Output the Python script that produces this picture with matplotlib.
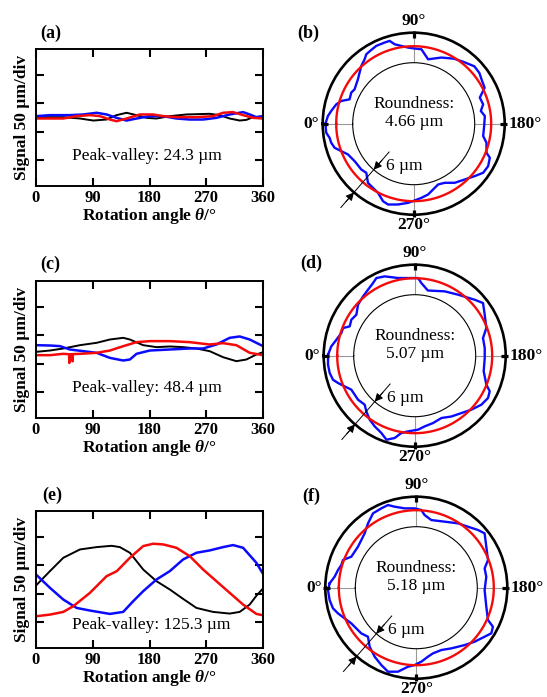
import matplotlib
matplotlib.use("Agg")
import matplotlib.pyplot as plt
import numpy as np

plt.rcParams['font.family'] = ['Liberation Serif', 'DejaVu Serif']
plt.rcParams['mathtext.fontset'] = 'custom'
plt.rcParams['mathtext.rm'] = 'Liberation Serif:bold'
plt.rcParams['mathtext.it'] = 'Liberation Serif:italic:bold'
plt.rcParams['mathtext.bf'] = 'Liberation Serif:bold'

BLUE = '#0a0aff'
RED = '#f50a0a'

# signal traces: rotation angle (deg) and signal (um)
a_black_ang = [0, 43.3, 69.7, 90.8, 111.9, 127.7, 143.6, 159.4, 175.3, 191.1, 212.2, 238.6, 275.5, 291.4, 307.2, 323.1, 333.7, 344.2, 360]
a_black_val = [0.6, 0.6, -1.8, -5.4, -3.6, 4.2, 8.4, 4.2, -0.6, -1.8, 2.4, 5.4, 6.6, 4.2, -1.8, -5.4, -4.2, 0.6, 1.8]
a_red_ang = [0, 22.2, 43.3, 64.4, 85.5, 101.3, 117.2, 127.7, 143.6, 164.7, 185.8, 201.6, 222.7, 254.4, 280.8, 296.7, 312.5, 328.4, 344.2, 360]
a_red_val = [-1.8, -1.8, -1.8, 2.4, 4.2, 2.4, -3.6, -6.6, -1.8, 5.4, 5.4, 2.4, 0.6, 0.6, 2.4, 8.4, 9.6, 4.2, -0.6, -1.8]
a_blue_ang = [0, 22.2, 53.8, 75.0, 96.1, 111.9, 127.7, 143.6, 159.4, 180.5, 201.6, 222.7, 243.8, 265.0, 286.1, 307.2, 328.4, 338.9, 349.5, 360]
a_blue_val = [2.4, 4.2, 4.2, 5.4, 8.4, 5.4, -0.6, -5.4, -1.8, 2.4, 2.4, -1.8, -3.6, -3.6, -0.6, 5.4, 9.6, 5.4, 0.6, 2.4]

c_black_ang = [0, 22.2, 43.3, 69.7, 96.1, 117.2, 138.3, 148.9, 170.0, 191.1, 212.2, 233.3, 254.4, 275.5, 296.7, 317.8, 333.7, 349.5, 360]
c_black_val = [-4.2, -1.8, 1.8, 7.7, 11.9, 17.8, 20.8, 17.8, 7.7, 4.2, 5.4, 4.2, 1.8, -3.0, -13.7, -20.8, -17.8, -8.9, -4.8]
c_red_ang = [0, 22.2, 43.3, 52.6, 52.8, 53.0, 57.8, 58.0, 58.2, 69.7, 96.1, 117.2, 138.3, 159.4, 180.5, 212.2, 243.8, 275.5, 296.7, 317.8, 338.9, 360]
c_red_val = [-10.1, -10.1, -7.7, -8.5, -24.0, -8.5, -8.3, -21.0, -8.3, -7.7, -5.9, -1.8, 5.9, 13.1, 14.9, 14.9, 13.1, 8.9, 11.3, 7.7, -5.9, -10.1]
c_blue_ang = [0, 22.2, 38.0, 53.8, 75.0, 96.1, 117.2, 138.3, 148.9, 159.4, 180.5, 201.6, 222.7, 243.8, 265.0, 286.1, 307.2, 323.1, 338.9, 360]
c_blue_val = [7.7, 7.1, 6.0, 0.0, -3.0, -5.9, -14.9, -19.6, -17.8, -7.7, -1.8, -0.6, 0.6, 1.8, 1.8, 8.9, 20.8, 23.2, 17.8, 6.0]

e_black_ang = [0, 22.2, 43.3, 69.7, 96.1, 119.8, 133.0, 148.9, 170.0, 191.1, 212.2, 233.3, 254.4, 280.8, 307.2, 323.1, 338.9, 349.5, 360]
e_black_val = [-10.7, 15.0, 38.7, 53.5, 57.7, 60.0, 57.7, 47.6, 17.8, -3.0, -17.8, -34.5, -50.6, -57.7, -60.7, -57.7, -44.6, -29.0, -16.0]
e_red_ang = [0, 22.2, 43.3, 59.1, 85.5, 111.9, 128.2, 148.9, 170.0, 185.8, 201.6, 222.7, 243.8, 265.0, 286.1, 307.2, 328.4, 349.5, 360]
e_red_val = [-65.5, -62.5, -57.7, -47.6, -23.8, 5.9, 14.9, 38.7, 59.5, 63.7, 62.5, 56.5, 41.6, 17.8, -3.0, -23.8, -44.6, -61.3, -63.7]
e_blue_ang = [0, 22.2, 43.3, 64.4, 85.5, 117.2, 138.3, 154.1, 170.0, 191.1, 212.2, 233.3, 254.4, 275.5, 296.7, 312.5, 328.4, 349.5, 360]
e_blue_val = [8.9, -14.9, -35.7, -50.6, -55.3, -61.3, -57.7, -38.7, -20.8, 0.0, 14.9, 35.7, 47.6, 51.8, 57.7, 61.3, 56.5, 29.7, 10.1]

# roundness profiles: angle (deg) and radial deviation (um) from the inner ring
b_theta = [0.0, 5.1, 8.7, 14.0, 17.4, 20.8, 26.4, 30.2, 38.5, 47.8, 52.7, 55.7, 60.1, 64.3, 70.3, 73.8, 76.5, 85.7, 90.8, 95.9,
           99.0, 102.6, 112.7, 121.8, 129.1, 136.6, 142.3, 146.8, 153.1, 158.5, 164.4, 169.3, 173.8, 181.9, 190.1, 194.7, 201.8,
           204.1, 209.7, 215.2, 220.6, 227.5, 235.2, 242.3, 248.1, 253.6, 258.5, 264.1, 270.7, 274.1, 281.0, 287.6, 291.6,
           297.3, 304.2, 307.7, 314.0, 318.9, 327.7, 335.0, 339.3, 343.1, 347.0, 350.5, 354.1]
b_radius = [5.45, 5.03, 4.5, 3.77, 2.99, 1.52, 1.75, 1.48, 2.06, 3.4, 4.0, 4.62, 4.82, 5.07, 5.04, 5.05, 4.14, 3.07, 2.83, 2.77,
            1.87, 1.0, 2.14, 3.1, 3.7, 4.5, 4.4, 4.01, 3.7, 2.01, 2.22, 1.46, 2.11, 1.9, 1.91, 2.85, 3.48,
            4.48, 4.94, 4.81, 3.9, 2.93, 2.19, 1.15, 0.9, 1.52, 2.25, 2.71, 3.3, 3.67, 4.26, 4.76, 4.47,
            3.36, 2.9, 2.75, 1.45, 1.72, 1.79, 2.32, 3.3, 4.34, 4.73, 4.86, 5.39]
d_theta = [0.7, 6.4, 11.5, 17.2, 21.1, 24.3, 29.6, 35.1, 42.0, 49.0, 54.7, 60.2, 63.7, 69.3, 77.9, 85.1, 92.5, 95.2, 101.4,
           115.0, 125.4, 137.0, 142.4, 149.6, 158.9, 165.5, 173.8, 181.9, 192.8, 202.0, 205.4, 210.0, 216.3, 223.6, 230.9,
           238.9, 246.8, 254.8, 261.9, 267.4, 275.0, 279.8, 283.7, 288.6, 293.3, 299.5, 305.1, 311.0, 315.6, 322.2, 331.8,
           336.3, 340.4, 343.6, 348.5, 354.1]
d_radius = [5.13, 4.58, 3.79, 3.15, 3.16, 2.06, 2.37, 2.06, 3.05, 3.53, 3.97, 4.55, 5.12, 4.76, 3.69, 3.39, 3.35, 2.4, 1.1,
            2.0, 2.77, 4.21, 5.05, 4.03, 3.16, 1.91, 1.89, 1.81, 1.95, 3.26, 4.41, 4.73, 4.35, 3.45, 2.59,
            2.0, 1.36, 1.76, 2.07, 2.61, 2.99, 3.49, 4.75, 5.53, 4.64, 4.04, 3.45, 2.55, 1.8, 2.15, 2.18,
            3.09, 4.08, 4.83, 5.15, 5.23]
f_theta = [2.9, 7.7, 12.7, 16.8, 20.7, 25.5, 30.3, 35.1, 40.9, 46.4, 53.1, 59.8, 66.2, 71.1, 75.0, 81.6, 88.8, 93.7, 96.5,
           102.5, 113.2, 122.9, 130.3, 136.9, 141.5, 149.6, 158.9, 164.2, 171.1, 182.0, 195.2, 204.3, 207.0, 211.3, 215.6,
           222.8, 229.9, 240.0, 248.1, 255.8, 260.4, 266.1, 271.2, 276.0, 282.3, 288.6, 294.3, 301.1, 308.3, 314.6, 320.3,
           331.2, 336.8, 341.9, 346.1, 351.9, 358.5]
f_radius = [5.15, 4.28, 3.86, 3.47, 3.47, 2.2, 2.08, 2.06, 2.35, 2.79, 3.89, 5.01, 5.14, 5.28, 4.57, 3.84, 3.67, 3.37, 2.43,
            1.66, 2.17, 3.13, 3.79, 4.69, 5.26, 4.03, 3.17, 2.0, 1.97, 1.47, 2.31, 3.53, 5.0, 5.36, 4.62,
            3.7, 2.8, 1.81, 1.23, 1.35, 1.79, 2.63, 3.27, 3.69, 4.99, 5.53, 4.78, 3.92, 2.85, 1.57, 2.1,
            2.63, 3.39, 4.29, 4.97, 5.31, 5.47]
ref_circle = 3.3

fig = plt.figure(figsize=(5.47, 6.97), dpi=100)


def trace_panel(rect, black, red, blue, pv, pv_y):
    ax = fig.add_axes(rect)
    ax.plot(black[0], black[1], color='k', lw=1.4)
    ax.plot(blue[0], blue[1], color=BLUE, lw=1.8)
    ax.plot(red[0], red[1], color=RED, lw=1.8)
    ax.set_xlim(0, 360)
    ax.set_ylim(-122, 122)
    ax.set_xticks([0, 90, 180, 270, 360])
    ax.set_yticks([-75, -25, 25, 75])
    ax.set_yticklabels([])
    ax.tick_params(direction='in', length=6, width=1.5, top=True, right=True, labelsize=12, pad=3)
    for lab in ax.get_xticklabels():
        lab.set_fontweight('bold')
    for sp in ax.spines.values():
        sp.set_linewidth(1.4)
    ax.set_ylabel('Signal 50 µm/div', fontsize=12.5, fontweight='bold', labelpad=1.5)
    ax.set_xlabel(r'Rotation angle $\theta$/°', fontsize=12.5, fontweight='bold', labelpad=0)
    ax.text(0.16, pv_y, 'Peak-valley: ' + pv, transform=ax.transAxes, fontsize=12.5, va='center')
    return ax


def roundness_panel(rect, theta, radius, value):
    ax = fig.add_axes(rect, projection='polar')
    ax.set_theta_zero_location('W')
    ax.set_theta_direction(-1)
    th = np.deg2rad(np.append(theta, theta[0] + 360))
    rr = np.append(radius, radius[0])
    ax.plot(th, rr, color=BLUE, lw=1.7, solid_joinstyle='round')
    ring = np.linspace(0, 2 * np.pi, 361)
    ax.plot(ring, np.full_like(ring, ref_circle), color=RED, lw=1.7)
    ax.set_rorigin(-12.2)
    ax.set_rlim(0, 6)
    ax.set_rticks([])
    ax.set_thetagrids([0, 90, 180, 270], labels=['', '', '', ''])
    ax.xaxis.grid(True, color='0.6', lw=0.8)
    ax.tick_params(axis='x', length=0)
    ax.spines['polar'].set_linewidth(1.9)
    ax.spines['inner'].set_linewidth(0.8)

    # short bars across the outer ring at the four quadrant angles
    for q in np.deg2rad([0, 90, 180, 270]):
        ax.plot([q, q], [5.0, 6.4], color='k', lw=2.3, solid_capstyle='butt', clip_on=False)

    kw = dict(transform=ax.transAxes, fontsize=12.5, fontweight='bold')
    ax.text(0.5, 1.066, '90°', ha='center', va='center', **kw)
    ax.text(0.5, -0.058, '270°', ha='center', va='center', **kw)
    ax.text(-0.018, 0.5, '0°', ha='right', va='center', **kw)
    ax.text(1.02, 0.5, '180°', ha='left', va='center', **kw)

    ax.text(0.5, 0.56, 'Roundness:\n' + value, transform=ax.transAxes, fontsize=12.5,
            ha='center', va='center', linespacing=1.15)

    # 6 um dimension between inner ring and outer ring
    ang = np.deg2rad(311)
    ax.plot([ang, ang], [-4.7, 10], color='k', lw=0.7, clip_on=False)
    arrow = dict(arrowstyle='-|>', color='k', lw=0.7, mutation_scale=12, shrinkA=0, shrinkB=0)
    ax.annotate('', xy=(ang, 0), xytext=(ang, -2.5), arrowprops=arrow, annotation_clip=False)
    ax.annotate('', xy=(ang, 6), xytext=(ang, 8.5), arrowprops=arrow, annotation_clip=False)
    ax.text(0.346, 0.268, '6 µm', transform=ax.transAxes, fontsize=12.5, ha='left', va='center')
    return ax


W, H = 547.0, 697.0
trace_panel([36 / W, (H - 186) / H, 227 / W, 137 / H],
            (a_black_ang, a_black_val), (a_red_ang, a_red_val), (a_blue_ang, a_blue_val), '24.3 µm', 0.22)
trace_panel([36 / W, (H - 418) / H, 227 / W, 137 / H],
            (c_black_ang, c_black_val), (c_red_ang, c_red_val), (c_blue_ang, c_blue_val), '48.4 µm', 0.22)
trace_panel([36 / W, (H - 648) / H, 227 / W, 137 / H],
            (e_black_ang, e_black_val), (e_red_ang, e_red_val), (e_blue_ang, e_blue_val), '125.3 µm', 0.17)

roundness_panel([322.7 / W, (H - 214.7) / H, 182 / W, 182 / H], b_theta, b_radius, '4.66 µm')
roundness_panel([323.7 / W, (H - 446.7) / H, 182 / W, 182 / H], d_theta, d_radius, '5.07 µm')
roundness_panel([325.3 / W, (H - 678.7) / H, 182 / W, 182 / H], f_theta, f_radius, '5.18 µm')

tags = ['(a)', '(b)', '(c)', '(d)', '(e)', '(f)']
tag_x = [40, 297, 40, 300, 42, 302]
tag_y = [33, 33, 264, 263, 495, 496]
for t, x, y in zip(tags, tag_x, tag_y):
    fig.text(x / W, (H - y) / H, t, fontsize=13, fontweight='bold', ha='left', va='center')

fig.savefig('out.png', dpi=100)
